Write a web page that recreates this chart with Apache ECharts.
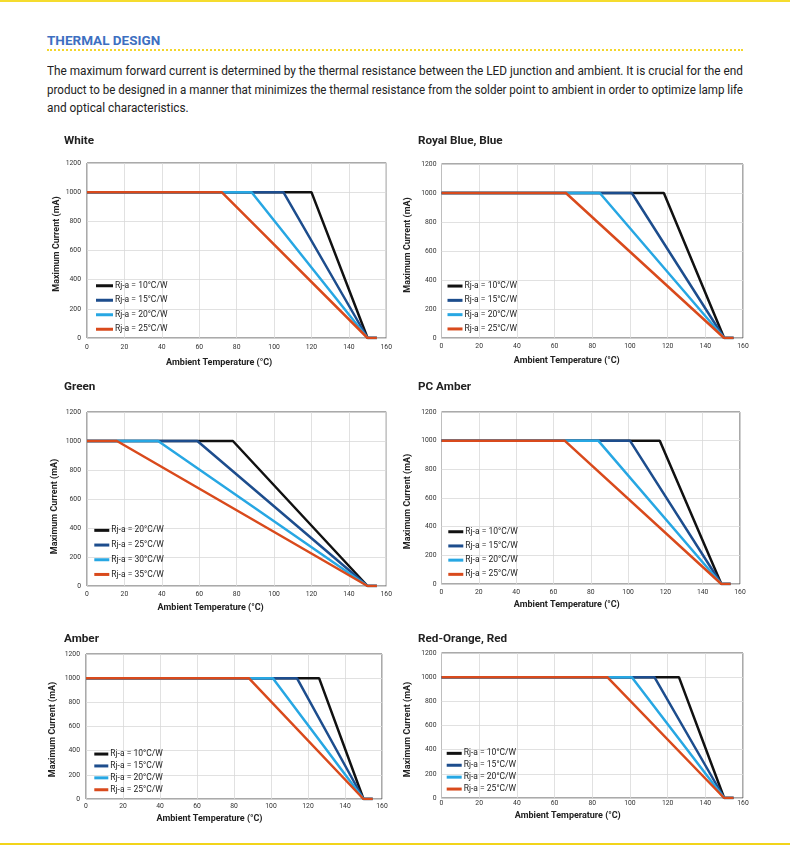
<!DOCTYPE html>
<html><head><meta charset="utf-8">
<script src="https://cdn.jsdelivr.net/npm/echarts@6/dist/echarts.min.js"></script>
<style>
html,body{margin:0;padding:0;background:#fff;}
#wrap{position:relative;width:790px;height:845px;overflow:hidden;font-family:Roboto,sans-serif;background:#fff;}
.topbar{position:absolute;left:0;top:0;width:790px;height:2px;background:#f5dc2e;}
.botbar{position:absolute;left:0;top:843px;width:790px;height:2px;background:#f2d41a;}
#h{position:absolute;left:47px;top:32px;font-weight:700;font-size:13.5px;line-height:16px;color:#3d6fc1;white-space:nowrap;}
#dots{position:absolute;left:47px;top:49px;width:696px;height:0;border-top:2px dotted #f3d62c;}
.ln{position:absolute;left:47px;white-space:nowrap;font-size:12.5px;line-height:14px;color:#222;transform-origin:0 0;}
.ch{position:absolute;}
</style></head>
<body>
<div id="wrap">
  <div class="topbar"></div>
  <div id="h">THERMAL DESIGN</div>
  <div id="dots"></div>
  <div class="ln" id="l1" style="top:64px">The maximum forward current is determined by the thermal resistance between the LED junction and ambient. It is crucial for the end</div>
  <div class="ln" id="l2" style="top:83px">product to be designed in a manner that minimizes the thermal resistance from the solder point to ambient in order to optimize lamp life</div>
  <div class="ln" id="l3" style="top:101px">and optical characteristics.</div>
  <div class="ch" id="c0" style="left:0;top:128px;width:395px;height:245px"></div>
  <div class="ch" id="c1" style="left:395px;top:128px;width:395px;height:245px"></div>
  <div class="ch" id="c2" style="left:0;top:375px;width:395px;height:245px"></div>
  <div class="ch" id="c3" style="left:395px;top:375px;width:395px;height:245px"></div>
  <div class="ch" id="c4" style="left:0;top:625px;width:395px;height:215px"></div>
  <div class="ch" id="c5" style="left:395px;top:625px;width:395px;height:215px"></div>
  <div class="botbar"></div>
</div>
<script>
// ---- data ----
const xTicks = [0, 20, 40, 60, 80, 100, 120, 140, 160];
const yTicks = [0, 200, 400, 600, 800, 1000, 1200];
const chartTitles = ['White', 'Royal Blue, Blue', 'Green', 'PC Amber', 'Amber', 'Red-Orange, Red'];
const namesStd = ['Rj-a = 10°C/W', 'Rj-a = 15°C/W', 'Rj-a = 20°C/W', 'Rj-a = 25°C/W'];
const namesGreen = ['Rj-a = 20°C/W', 'Rj-a = 25°C/W', 'Rj-a = 30°C/W', 'Rj-a = 35°C/W'];
const seriesColors = ['#111111', '#1d4d8d', '#27a7e3', '#d94a1c'];

const whiteData = [
  [[0,1000],[120,1000],[150,0],[155,0]],
  [[0,1000],[105,1000],[150,0],[155,0]],
  [[0,1000],[88,1000],[150,0],[155,0]],
  [[0,1000],[72,1000],[150,0],[155,0]]
];
const royalBlueData = [
  [[0,1000],[118,1000],[150,0],[155,0]],
  [[0,1000],[101,1000],[150,0],[155,0]],
  [[0,1000],[84,1000],[150,0],[155,0]],
  [[0,1000],[66,1000],[150,0],[155,0]]
];
const greenData = [
  [[0,1000],[78,1000],[150,0],[155,0]],
  [[0,1000],[59,1000],[150,0],[155,0]],
  [[0,1000],[38,1000],[150,0],[155,0]],
  [[0,1000],[16,1000],[150,0],[155,0]]
];
const pcAmberData = [
  [[0,1000],[117,1000],[150,0],[155,0]],
  [[0,1000],[101,1000],[150,0],[155,0]],
  [[0,1000],[84,1000],[150,0],[155,0]],
  [[0,1000],[66,1000],[150,0],[155,0]]
];
const amberData = [
  [[0,1000],[126,1000],[150,0],[155,0]],
  [[0,1000],[114,1000],[150,0],[155,0]],
  [[0,1000],[101,1000],[150,0],[155,0]],
  [[0,1000],[88,1000],[150,0],[155,0]]
];
const redOrangeData = [
  [[0,1000],[126,1000],[150,0],[155,0]],
  [[0,1000],[113,1000],[150,0],[155,0]],
  [[0,1000],[101,1000],[150,0],[155,0]],
  [[0,1000],[88,1000],[150,0],[155,0]]
];

// ---- header text justification ----
function fitLine(id, justify) {
  const el = document.getElementById(id);
  const w = el.getBoundingClientRect().width;
  const target = 696;
  if (w > target) {
    el.style.transform = 'scaleX(' + (target / w) + ')';
  } else if (justify) {
    const spaces = (el.textContent.match(/ /g) || []).length;
    el.style.wordSpacing = ((target - w) / spaces) + 'px';
  }
}
fitLine('l1', true); fitLine('l2', true);
(function(){
  const el = document.getElementById('l3');
  const l1 = document.getElementById('l1');
  if (l1.style.transform) el.style.transform = l1.style.transform;
})();

// ---- layout (per chart, relative to its container) ----
const layouts = [
  {grid:{left:87,top:35,width:301,height:175}, title:[64,7], legend:[96,153,17,5], yGap:25.5, yPad:[0,0,0,13], xGap:20, xPad:[0,35,0,0], xm:6, ym:6},
  {grid:{left:45,top:36,width:303,height:174}, title:[23,7], legend:[52.5,153.3,15,4.8], yGap:28.5, yPad:[0,0,0,12], xGap:17.5, xPad:[0,51,0,0], xm:5, ym:5},
  {grid:{left:87,top:37,width:302,height:174}, title:[64,6], legend:[94.3,150.6,15,5.2], yGap:27.5, yPad:[0,15,0,0], xGap:16.5, xPad:[0,52,0,0], xm:4.5, ym:6},
  {grid:{left:44,top:37,width:301,height:172}, title:[23,6], legend:[53.3,152,15,4.7], yGap:28.5, yPad:[0,7,0,0], xGap:15.5, xPad:[0,48,0,0], xm:4.5, ym:5},
  {grid:{left:86,top:29,width:296,height:145}, title:[64,8], legend:[94.3,124.3,14,2.4], yGap:28.5, yPad:[0,6,0,0], xGap:14.5, xPad:[0,49,0,0], xm:4, ym:6},
  {grid:{left:44,top:28,width:304,height:145}, title:[23,8], legend:[51.7,123.6,15,2.4], yGap:28.5, yPad:[0,8,0,0], xGap:13, xPad:[0,49,0,0], xm:1.5, ym:5}
];
const allData = [whiteData, royalBlueData, greenData, pcAmberData, amberData, redOrangeData];
const allNames = [namesStd, namesStd, namesGreen, namesStd, namesStd, namesStd];
const FONT = 'Roboto';

allData.forEach(function(data, i) {
  const L = layouts[i];
  const names = allNames[i];
  const chart = echarts.init(document.getElementById('c' + i), null, {renderer: 'canvas'});
  chart.setOption({
    animation: false,
    backgroundColor: 'transparent',
    title: {
      text: chartTitles[i], left: L.title[0], top: L.title[1], padding: 0,
      textStyle: {fontFamily: FONT, fontSize: 11.7, fontWeight: 'bold', color: '#222', lineHeight: 13}
    },
    legend: {
      orient: 'vertical', left: L.legend[0], top: L.legend[1], padding: 0,
      itemWidth: L.legend[2], itemHeight: 3, itemGap: L.legend[3], icon: 'rect',
      data: names,
      textStyle: {fontFamily: FONT, fontSize: 8.5, color: '#222', lineHeight: 9.5, padding: [0,0,0,-3]},
      selectedMode: false
    },
    grid: Object.assign({show: true, borderColor: '#555', borderWidth: 1, backgroundColor: 'transparent'}, L.grid),
    xAxis: {
      type: 'value', min: xTicks[0], max: xTicks[xTicks.length - 1], interval: xTicks[1] - xTicks[0],
      name: 'Ambient Temperature (°C)', nameLocation: 'middle', nameGap: L.xGap, nameMoveOverlap: false,
      nameTextStyle: {fontFamily: FONT, fontSize: 9, fontWeight: 'bold', color: '#222', lineHeight: 10, padding: L.xPad},
      axisLine: {show: false}, axisTick: {show: false},
      axisLabel: {fontFamily: FONT, fontSize: 6.8, color: '#333', margin: L.xm, formatter: function(v){ return String(v); }},
      splitLine: {show: true, lineStyle: {color: '#d9d9d9', width: 0.8}}
    },
    yAxis: {
      type: 'value', min: yTicks[0], max: yTicks[yTicks.length - 1], interval: yTicks[1] - yTicks[0],
      name: 'Maximum Current (mA)', nameLocation: 'middle', nameGap: L.yGap, nameMoveOverlap: false,
      nameTextStyle: {fontFamily: FONT, fontSize: 9, fontWeight: 'bold', color: '#222', lineHeight: 10, padding: L.yPad},
      axisLine: {show: false}, axisTick: {show: false},
      axisLabel: {fontFamily: FONT, fontSize: 6.8, color: '#333', margin: L.ym, formatter: function(v){ return String(v); }},
      splitLine: {show: true, lineStyle: {color: '#d9d9d9', width: 0.8}}
    },
    series: data.map(function(pts, k) {
      return {
        name: names[k], type: 'line', data: pts, showSymbol: false, symbol: 'none',
        color: seriesColors[k], lineStyle: {width: 2.5, color: seriesColors[k]}, z: 2 + k
      };
    })
  });
});
</script>
</body></html>
